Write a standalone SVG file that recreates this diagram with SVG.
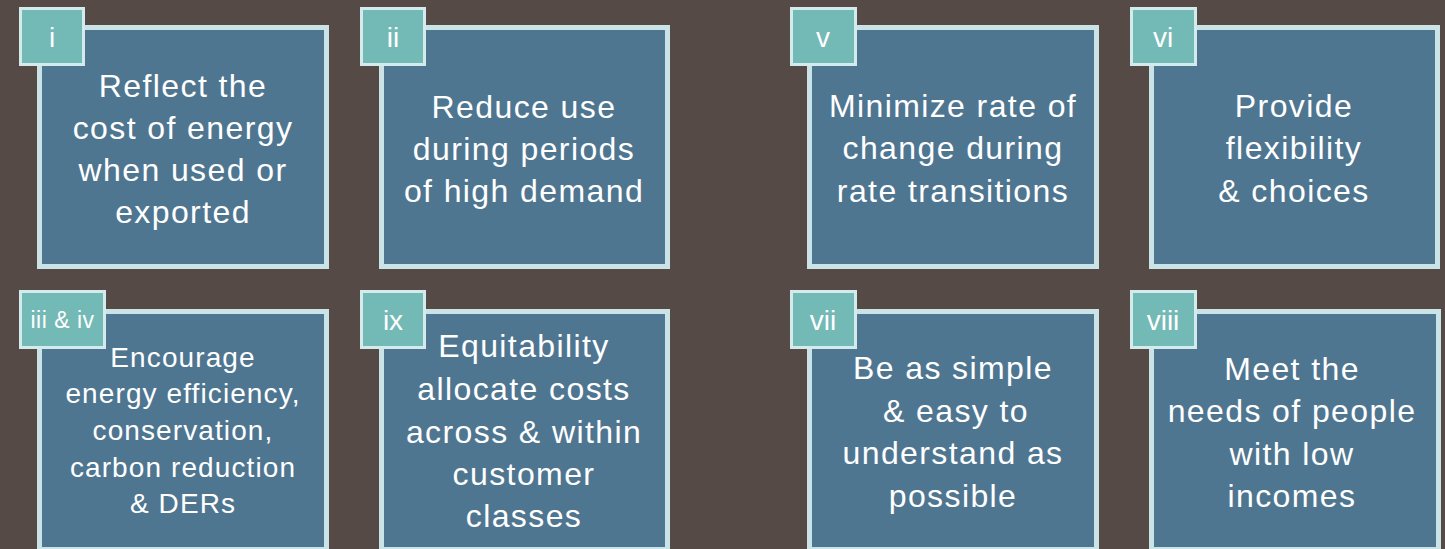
<svg xmlns="http://www.w3.org/2000/svg" width="1445" height="549" viewBox="0 0 1445 549">
<style>
.box{fill:#4f7691;stroke:#c9e3e6;stroke-width:5}
.tab{fill:#73b9b6;stroke:#d3ebec;stroke-width:3}
.t{font-family:"Liberation Sans",Arial,sans-serif;font-size:32px;fill:#ffffff;text-anchor:middle;letter-spacing:1.4px}
.s{font-size:28px;letter-spacing:1.1px}
.n{font-family:"Liberation Sans",Arial,sans-serif;font-size:28px;fill:#ffffff;text-anchor:middle}
</style>
<rect x="0" y="0" width="1445" height="549" fill="#554a45"/>
<g id="connectors"></g>
<g id="node-i">
<rect class="box" x="39.5" y="27.5" width="287" height="239"/>
<rect class="tab" x="20.5" y="8.5" width="63" height="56"/>
<text class="n" x="52" y="47">i</text>
<text class="t" x="183" y="97">Reflect the</text>
<text class="t" x="183" y="139">cost of energy</text>
<text class="t" x="183" y="181">when used or</text>
<text class="t" x="183" y="223">exported</text>
</g>
<g id="node-ii">
<rect class="box" x="381.5" y="27.5" width="286" height="239"/>
<rect class="tab" x="361.5" y="8.5" width="63" height="56"/>
<text class="n" x="393" y="47">ii</text>
<text class="t" x="524" y="118">Reduce use</text>
<text class="t" x="524" y="160">during periods</text>
<text class="t" x="524" y="202">of high demand</text>
</g>
<g id="node-v">
<rect class="box" x="809.5" y="27.5" width="287" height="239"/>
<rect class="tab" x="791.5" y="8.5" width="64" height="56"/>
<text class="n" x="823" y="47">v</text>
<text class="t" x="953" y="117">Minimize rate of</text>
<text class="t" x="953" y="159">change during</text>
<text class="t" x="953" y="202">rate transitions</text>
</g>
<g id="node-vi">
<rect class="box" x="1151.5" y="27.5" width="286" height="239"/>
<rect class="tab" x="1131.5" y="8.5" width="64" height="56"/>
<text class="n" x="1163" y="47">vi</text>
<text class="t" x="1294" y="117">Provide</text>
<text class="t" x="1294" y="159">flexibility</text>
<text class="t" x="1294" y="202">&amp; choices</text>
</g>
<g id="node-iii-iv">
<rect class="box" x="39.5" y="311.5" width="287" height="238"/>
<rect class="tab" x="20.5" y="291.5" width="84" height="56"/>
<text class="n" x="62.5" y="328" style="font-size:23px;letter-spacing:0.5px">iii &amp; iv</text>
<text class="t s" x="183" y="367">Encourage</text>
<text class="t s" x="183" y="403">energy efficiency,</text>
<text class="t s" x="183" y="440">conservation,</text>
<text class="t s" x="183" y="477">carbon reduction</text>
<text class="t s" x="183" y="513">&amp; DERs</text>
</g>
<g id="node-ix">
<rect class="box" x="381.5" y="311.5" width="286" height="238"/>
<rect class="tab" x="361.5" y="291.5" width="63" height="56"/>
<text class="n" x="393" y="330">ix</text>
<text class="t" x="524" y="357">Equitability</text>
<text class="t" x="524" y="400">allocate costs</text>
<text class="t" x="524" y="443">across &amp; within</text>
<text class="t" x="524" y="485">customer</text>
<text class="t" x="524" y="527">classes</text>
</g>
<g id="node-vii">
<rect class="box" x="809.5" y="311.5" width="287" height="238"/>
<rect class="tab" x="791.5" y="291.5" width="64" height="56"/>
<text class="n" x="823" y="330">vii</text>
<text class="t" x="953" y="379">Be as simple</text>
<text class="t" x="956" y="422">&amp; easy to</text>
<text class="t" x="953" y="464">understand as</text>
<text class="t" x="953" y="507">possible</text>
</g>
<g id="node-viii">
<rect class="box" x="1151.5" y="311.5" width="287" height="238"/>
<rect class="tab" x="1131.5" y="291.5" width="64" height="56"/>
<text class="n" x="1163" y="330">viii</text>
<text class="t" x="1292" y="380">Meet the</text>
<text class="t" x="1292" y="422">needs of people</text>
<text class="t" x="1292" y="465">with low</text>
<text class="t" x="1292" y="507">incomes</text>
</g>
</svg>
